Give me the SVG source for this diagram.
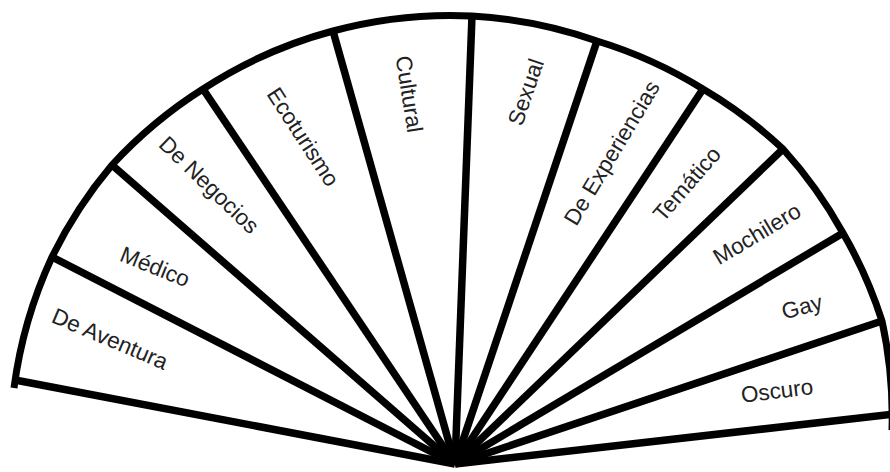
<svg xmlns="http://www.w3.org/2000/svg" width="890" height="472" viewBox="0 0 890 472">
  <style>
    .spoke { stroke: #000; stroke-width: 7.5; fill: none; stroke-linecap: butt; }
    .arc { stroke: #000; stroke-width: 7; fill: none; stroke-linejoin: round; }
    .lbl { font-family: "Liberation Sans", Arial, sans-serif; font-size: 22.5px; fill: #222; text-anchor: middle; dominant-baseline: central; }
  </style>
  <rect width="890" height="472" fill="#fff"/>
  <g id="fan-outline">
    <path class="arc" d="M14,388 A450,450 0 0 1 52,257 A450,450 0 0 1 112,165 A450,450 0 0 1 203,89 A450,450 0 0 1 333,31 A450,450 0 0 1 472,16 A450,450 0 0 1 597,41 A450,450 0 0 1 703,89 A450,450 0 0 1 783,149 A450,450 0 0 1 843,233 A450,450 0 0 1 882,321 A450,450 0 0 1 892,430"/>
  </g>
  <g id="spokes">
    <line class="spoke" x1="455" y1="464" x2="15" y2="380"/>
    <line class="spoke" x1="455" y1="464" x2="52" y2="257"/>
    <line class="spoke" x1="455" y1="464" x2="112" y2="165"/>
    <line class="spoke" x1="455" y1="464" x2="203" y2="89"/>
    <line class="spoke" x1="455" y1="464" x2="333" y2="31"/>
    <line class="spoke" x1="455" y1="464" x2="472" y2="16"/>
    <line class="spoke" x1="455" y1="464" x2="597" y2="41"/>
    <line class="spoke" x1="455" y1="464" x2="703" y2="89"/>
    <line class="spoke" x1="455" y1="464" x2="783" y2="149"/>
    <line class="spoke" x1="455" y1="464" x2="843" y2="233"/>
    <line class="spoke" x1="455" y1="464" x2="882" y2="321"/>
    <line class="spoke" x1="455" y1="464" x2="895" y2="414"/>
  </g>
  <g id="sector-de-aventura"><text class="lbl" transform="translate(110,339) rotate(23)">De Aventura</text></g>
  <g id="sector-medico"><text class="lbl" transform="translate(155,267) rotate(22)">Médico</text></g>
  <g id="sector-de-negocios"><text class="lbl" transform="translate(209,185) rotate(44)">De Negocios</text></g>
  <g id="sector-ecoturismo"><text class="lbl" transform="translate(303,137) rotate(57)">Ecoturismo</text></g>
  <g id="sector-cultural"><text class="lbl" transform="translate(409,94) rotate(81)">Cultural</text></g>
  <g id="sector-sexual"><text class="lbl" transform="translate(526,92) rotate(-71)">Sexual</text></g>
  <g id="sector-de-experiencias"><text class="lbl" transform="translate(612,153) rotate(-59)">De Experiencias</text></g>
  <g id="sector-tematico"><text class="lbl" transform="translate(687,184) rotate(-49)">Temático</text></g>
  <g id="sector-mochilero"><text class="lbl" transform="translate(757,234) rotate(-31)">Mochilero</text></g>
  <g id="sector-gay"><text class="lbl" transform="translate(802,307) rotate(-15)">Gay</text></g>
  <g id="sector-oscuro"><text class="lbl" transform="translate(777,391) rotate(-7)">Oscuro</text></g>
</svg>
